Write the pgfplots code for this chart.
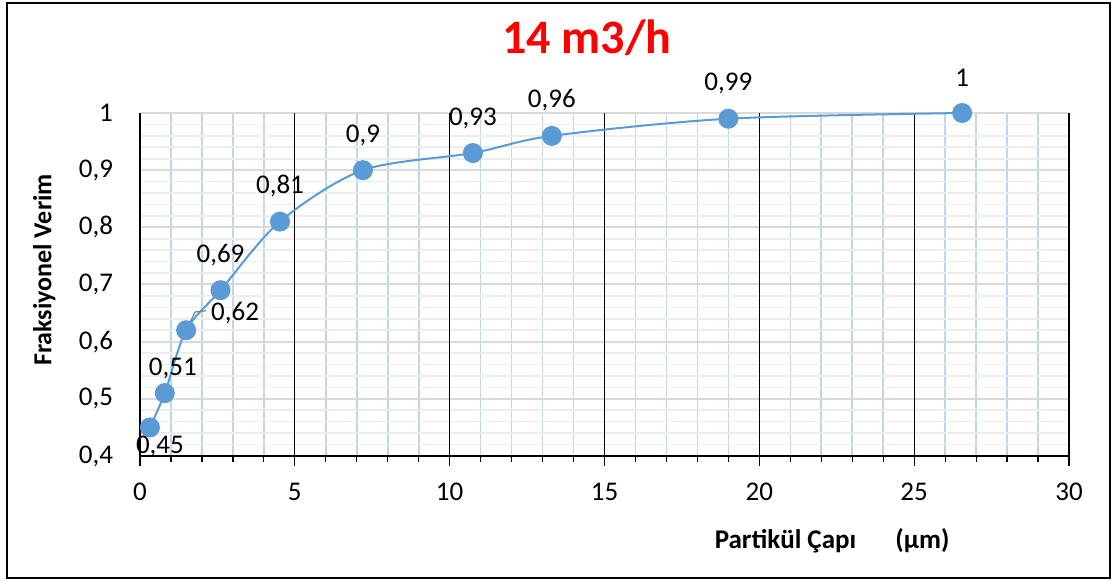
\documentclass[border=0pt]{standalone}
\usepackage{fontspec}
\setmainfont{Carlito}
\usepackage{pgfplots}
\usepackage{pgfplotstable}
\pgfplotsset{compat=1.18}

\definecolor{ptblue}{HTML}{5B9BD5}
\definecolor{mingridv}{HTML}{BDD7EE}
\definecolor{majgridh}{HTML}{D9D9D9}
\definecolor{mingridh}{HTML}{EDEDED}

% x: particle diameter (um), y: fractional efficiency, dx/dy: label offset (pt)
\pgfplotstableread{
x     y     lab   dx    dy
0.32  0.45  0,45  5     -9.5
0.80  0.51  0,51  4     12.5
1.49  0.62  0,62  24.5  8.5
2.60  0.69  0,69  0     17.5
4.52  0.81  0,81  0     18
7.20  0.90  0,9   0     17.5
10.75 0.93  0,93  0     17.5
13.30 0.96  0,96  0     18
19.00 0.99  0,99  0     17.5
26.55 1.00  1     0     17.5
}\datatable

\begin{document}
\begin{tikzpicture}[x=1pt,y=1pt]
\useasboundingbox (0,0) rectangle (558.5,290.5);
\draw[black, line width=1pt] (3.5,1.5) rectangle (555,289);
\begin{axis}[
  at={(70pt,62.5pt)}, anchor=south west,
  width=464.5pt, height=171.5pt, scale only axis,
  xmin=0, xmax=30, ymin=0.4, ymax=1,
  xtick={0,5,10,15,20,25,30},
  ytick={0.4,0.5,0.6,0.7,0.8,0.9,1},
  minor x tick num=4, minor y tick num=4,
  grid=both,
  major x grid style={draw=none},
  minor x grid style={mingridv, line width=0.8pt},
  major y grid style={majgridh, line width=1pt},
  minor y grid style={mingridh, line width=0.8pt},
  % black vertical lines every 5, drawn over the horizontal grid
  extra x ticks={5,10,15,20,25,30},
  extra x tick labels={},
  extra x tick style={grid=major,
    major x grid style={draw=black, line width=0.6pt},
    major x tick style={draw=none}},
  axis x line=bottom, axis y line=left,
  axis line style={-, black, line width=0.6pt},
  tick align=outside,
  major tick length=5pt, minor tick length=3pt,
  ytick style={draw=none},
  xtick style={black, line width=0.6pt},
  ticklabel style={font=\fontsize{13.5}{16}\selectfont},
  yticklabel style={xshift=-5pt},
  xticklabel style={yshift=-5pt},
  /pgf/number format/use comma,
  /pgf/number format/assume math mode=true,
  title={14 m3/h},
  title style={at={(0.481,1.184)}, anchor=center, text=red,
    font=\fontsize{24}{28}\selectfont\bfseries},
  xlabel={Partikül Çapı \hspace{1em} (µm)},
  xlabel style={at={(0.745,-0.248)}, anchor=center,
    font=\fontsize{13.5}{16}\selectfont\bfseries},
  ylabel={Fraksiyonel Verim},
  ylabel style={at={(-0.103,0.542)}, anchor=center,
    font=\fontsize{13}{16}\selectfont\bfseries},
  clip=false,
]
\addplot[ptblue, line width=1pt, smooth, mark=*, mark size=4.5pt,
  mark options={fill=ptblue, draw=ptblue},
  nodes near coords, point meta=explicit symbolic,
  visualization depends on={\thisrow{dx} \as \dx},
  visualization depends on={\thisrow{dy} \as \dy},
  every node near coord/.append style={anchor=center, text=black,
    xshift=\dx pt, yshift=\dy pt, font=\fontsize{13.5}{16}\selectfont},
] table[x=x, y=y, meta=lab] {\datatable};
% leader line of the 0,62 label
\draw[gray, line width=0.6pt] (axis cs:1.55,0.626) -- (axis cs:1.78,0.652) -- (axis cs:2.13,0.654);
\end{axis}
\end{tikzpicture}
\end{document}
